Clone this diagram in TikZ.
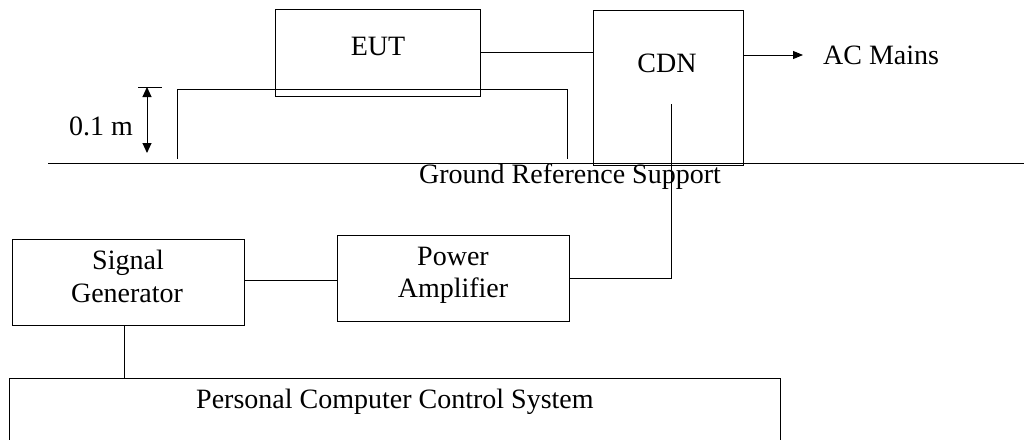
\documentclass[tikz,border=0pt]{standalone}
\usepackage{fontspec}
\setmainfont{Liberation Serif}
\usetikzlibrary{arrows.meta}
\begin{document}
\begin{tikzpicture}[x=1pt,y=-1pt,
  box/.style={draw,line width=1pt,inner sep=0pt,rectangle},
  txt/.style={inner sep=0pt,font=\fontsize{28}{32}\selectfont},
  wire/.style={line width=1pt},
  tip/.style={-{Triangle[length=10pt,width=8pt]}},
  dtip/.style={{Triangle[length=10pt,width=9pt]}-{Triangle[length=10pt,width=9pt]}}]
\clip (0,0) rectangle (1024,439);
\fill[white] (0,0) rectangle (1024,439);
% boxes
\node[box,minimum width=205.3pt,minimum height=86.7pt] (EUT) at (378.3,52.7) {};
\node[box,minimum width=150pt,minimum height=154.7pt] (CDN) at (668,87.7) {};
\node[box,minimum width=232pt,minimum height=86pt] (SG) at (128,282) {};
\node[box,minimum width=232pt,minimum height=86pt] (PA) at (453,278) {};
\node[box,minimum width=771pt,minimum height=84pt] (PC) at (394.5,420) {};
% texts
\node[txt,anchor=base] (teut) at (378,55) {EUT};
\node[txt,anchor=base] (tcdn) at (667,72) {CDN};
\node[txt,anchor=base west] (acm) at (823,64.3) {AC Mains};
\node[txt,anchor=base west] (dim) at (69,135) {0.1 m};
\node[txt,anchor=base west] (grs) at (419,183) {Ground Reference Support};
\node[txt,anchor=base] (pa1) at (453,265) {Power};
\node[txt,anchor=base] (pa2) at (453,297) {Amplifier};
\node[txt,anchor=base] (sg1) at (128,269) {Signal};
\node[txt,anchor=base] (sg2) at (127,302) {Generator};
\node[txt,anchor=base west] (pct) at (196,408) {Personal Computer Control System};
% coordinates
\coordinate (acmtip) at (803,55);
\coordinate (cdnin) at (671,104);
\coordinate (gl) at (48,163);
\coordinate (gr) at (1030,163);
\coordinate (dtop) at (147,87);
\coordinate (dbot) at (147,153);
\coordinate (tickl) at (138,87);
\coordinate (tickr) at (162,87);
\coordinate (supl) at (177,159);
\coordinate (supr) at (567,159);
% ground reference plane and support
\draw[wire] (gl) -- (gr);
\draw[wire] (supl) -- (177,89.3) -- (567,89.3) -- (supr);
% dimension
\draw[wire] (tickl) -- (tickr);
\draw[wire,dtip] (dtop) -- (dbot);
% connectors
\draw[wire] ([yshift=0.7pt]EUT.east) -- ([yshift=0.7pt]EUT.east -| CDN.west);
\draw[wire,tip] (CDN.east |- acmtip) -- (acmtip);
\draw[wire] (cdnin) |- (PA.east);
\draw[wire] ([yshift=2pt]SG.east) -- ([yshift=2pt]SG.east -| PA.west);
\draw[wire] ([xshift=-4pt]SG.south) -- ([xshift=-4pt]SG.south |- PC.north);
\end{tikzpicture}
\end{document}
